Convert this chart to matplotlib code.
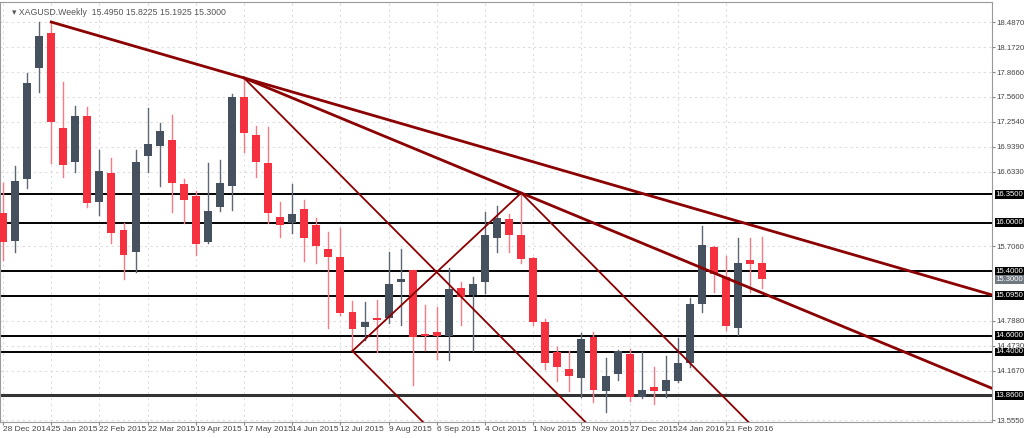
import matplotlib
matplotlib.use("Agg")
import matplotlib.pyplot as plt
from matplotlib.patches import Rectangle

plt.rcParams['font.family'] = ['Liberation Sans', 'DejaVu Sans']

dates = ["28 Dec 2014","25 Jan 2015","22 Feb 2015","22 Mar 2015","19 Apr 2015","17 May 2015",
         "14 Jun 2015","12 Jul 2015","9 Aug 2015","6 Sep 2015","4 Oct 2015","1 Nov 2015",
         "29 Nov 2015","27 Dec 2015","24 Jan 2016","21 Feb 2016"]
opens = [16.121,15.774,16.542,17.917,18.351,17.174,16.753,17.323,16.257,16.616,15.910,15.638,16.827,16.951,17.025,16.480,
         16.332,15.762,16.195,16.455,17.558,17.087,16.740,16.071,15.997,16.170,15.972,15.675,15.576,14.894,14.708,14.820,
         14.820,15.266,15.415,14.622,14.647,14.597,15.192,15.105,15.266,15.811,16.047,15.848,15.563,14.770,14.399,14.188,
         14.077,14.585,13.916,14.126,14.374,13.841,13.965,13.916,14.039,14.262,14.993,15.700,15.328,14.696,15.539,15.495]
highs = [16.493,16.703,17.855,18.487,18.487,17.744,17.447,17.434,16.901,16.802,15.997,16.901,17.422,17.236,17.335,16.542,
         16.393,16.740,16.778,17.595,17.794,17.199,17.186,16.257,16.480,16.282,16.059,15.886,15.935,15.031,15.018,15.043,
         15.638,15.675,15.415,14.981,14.956,15.439,15.266,15.328,16.133,16.208,16.109,16.369,15.576,14.808,14.461,14.411,
         14.634,14.647,14.324,14.423,14.436,14.399,14.213,14.349,14.572,15.068,15.960,15.712,15.588,15.811,15.811,15.8225]
lows = [15.539,15.638,16.431,17.620,16.740,16.567,16.629,16.195,16.096,15.749,15.303,15.390,16.629,16.455,16.133,15.997,
        15.601,15.749,16.146,16.158,16.877,16.567,15.997,15.824,15.873,15.526,15.501,14.696,14.857,14.411,14.547,14.399,
        14.758,14.733,13.990,14.423,14.312,14.300,14.733,14.411,15.130,15.638,15.638,15.501,14.733,14.188,14.039,13.916,
        13.841,13.779,13.655,14.052,13.792,13.829,13.754,13.841,14.027,14.213,14.894,15.142,14.671,14.609,15.142,15.1925]
closes = [15.762,16.517,17.732,18.314,17.248,16.716,17.323,16.245,16.641,15.873,15.601,16.753,16.976,17.137,16.493,16.282,
          15.737,16.146,16.493,17.558,17.112,16.753,16.121,15.972,16.109,15.811,15.712,15.576,14.882,14.684,14.770,14.795,
          15.241,15.303,14.585,14.597,14.597,15.179,15.080,15.241,15.848,16.059,15.848,15.551,14.770,14.262,14.213,14.101,
          14.560,13.928,14.101,14.411,13.841,13.928,13.916,14.052,14.262,14.993,15.724,15.365,14.721,15.501,15.489,15.300]
levels = [16.35, 16.00, 15.40, 15.095, 14.60, 14.40, 13.86]
yticks = [18.487,18.172,17.866,17.560,17.254,16.939,16.633,15.706,14.788,14.473,14.167,13.555]
# trend line anchors (candle index, price)
anchA = [(4, 18.487), (20, 17.794)]
anchB = [(20, 17.794), (43, 16.369)]
anchD = [(29, 14.411), (43, 16.369)]
fall_slope = -0.1505
fall_starts = [(20, 17.794), (43, 16.369), (29, 14.411)]

BULL, BEAR = "#465160", "#f5303f"
FS = 5.6
fig = plt.figure(figsize=(10.24, 4.38), dpi=100)
ax = fig.add_axes([0.0, 16/438, 992/1024, 420/438])
XMIN, XMAX = -0.25, 82.07
YMIN, YMAX = 13.531, 18.735
ax.set_xlim(XMIN, XMAX); ax.set_ylim(YMIN, YMAX)

for i, (o, h, l, c) in enumerate(zip(opens, highs, lows, closes)):
    up = c >= o
    col = BULL if up else BEAR
    wcol = "#5d6775" if up else "#f77a84"
    ax.plot([i, i], [l, h], color=wcol, lw=1, zorder=3)
    ax.add_patch(Rectangle((i - 0.33, min(o, c)), 0.66, max(abs(c - o), 0.012), color=col, zorder=4, lw=0))

for lv in levels:
    ax.axhline(lv, color="#333333" if lv == 13.86 else "black", lw=2.2 if lv == 13.86 else 1.4, zorder=2)

dr = "#8b0000"
def extend(p0, p1, lw):
    (x0, y0), (x1, y1) = p0, p1
    s = (y1 - y0) / (x1 - x0)
    ax.plot([x0, XMAX], [y0, y0 + s * (XMAX - x0)], color=dr, lw=lw, zorder=5)
extend(*anchA, 2.0)
extend(*anchB, 2.0)
(x0, y0), (x1, y1) = anchD
ax.plot([x0, x1], [y0, y1], color=dr, lw=1.3, zorder=5)
for (sx, sy) in fall_starts:
    xe = sx + (YMIN - sy) / fall_slope
    ax.plot([sx, xe], [sy, YMIN], color=dr, lw=1.3, zorder=5)

ax.set_xticks(range(0, 64, 4))
ax.set_xticklabels(dates, fontsize=6.0, color="#333333", ha="left")
ax.yaxis.tick_right()
ax.set_yticks(yticks)
ax.set_yticklabels([f"{v:.4f}" for v in yticks], fontsize=FS, color="#444444")
ax.tick_params(length=2, pad=1, colors="#888888", labelcolor="#444444")
ax.grid(True, ls=(0, (2, 3)), color="#dddddd", lw=0.8, zorder=0)
for s in ax.spines.values():
    s.set_color("#999999")

for lv in levels:
    ax.text(XMAX + 0.3, lv, f"{lv:.4f}", fontsize=FS, color="white", va="center", ha="left", zorder=10,
            clip_on=False, bbox=dict(boxstyle="square,pad=0.1", fc="black", ec="none"))
ax.text(XMAX + 0.3, closes[-1], f"{closes[-1]:.4f}", fontsize=FS, color="white", va="center", ha="left",
        clip_on=False, bbox=dict(boxstyle="square,pad=0.1", fc="#707880", ec="none"))

ax.text(0.012, 0.985, "\u25be XAGUSD.Weekly  %.4f %.4f %.4f %.4f" % (opens[-1], highs[-1], lows[-1], closes[-1]),
        transform=ax.transAxes, fontsize=6.3, color="#555555", va="top", ha="left")
fig.savefig("out.png", dpi=100)
